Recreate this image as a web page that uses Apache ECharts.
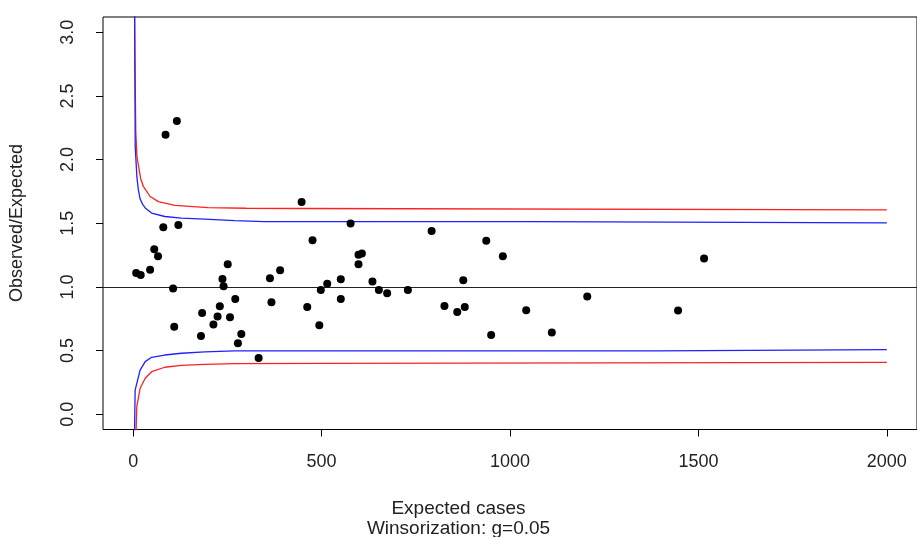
<!DOCTYPE html>
<html>
<head>
<meta charset="utf-8">
<script src="https://cdn.jsdelivr.net/npm/echarts@6/dist/echarts.min.js"></script>
<style>
html,body{margin:0;padding:0;background:#fff;}
#chart{width:917px;height:537px;}
</style>
</head>
<body>
<div id="chart"></div>
<script>
// ---- data ----
const expectedCases = [8, 20, 45, 56, 66, 80, 120, 106, 109, 86, 116, 251, 237, 240, 271, 230, 183, 224, 257, 213, 180, 287, 278, 333, 363, 390, 367, 447, 577, 476, 598, 607, 598, 515, 551, 498, 551, 462, 494, 635, 652, 674, 729, 792, 937, 981, 876, 826, 860, 880, 1043, 950, 1111, 1205, 1515, 1446];
const obsExpRatio  = [1.110, 1.094, 1.134, 1.296, 1.241, 1.469, 1.487, 0.987, 0.688, 2.195, 2.303, 1.178, 1.063, 1.005, 0.906, 0.848, 0.796, 0.767, 0.762, 0.704, 0.615, 0.630, 0.557, 0.442, 1.068, 1.131, 0.880, 1.666, 1.498, 1.367, 1.252, 1.262, 1.178, 1.024, 1.060, 0.976, 0.906, 0.843, 0.699, 1.042, 0.976, 0.950, 0.976, 1.440, 1.362, 1.241, 1.053, 0.851, 0.803, 0.843, 0.817, 0.623, 0.641, 0.924, 1.223, 0.814];

const upperRed  = [[3.4, 3.4], [4.5, 2.85], [7, 2.22], [10, 2.03], [13, 1.97], [20, 1.85], [27, 1.79], [45, 1.71], [67, 1.67], [111, 1.64], [199, 1.622], [300, 1.618], [458, 1.616], [458, 1.605], [2000, 1.605]];
const upperBlue = [[3.4, 3.4], [4.5, 2.8], [5.5, 2.1], [10, 1.86], [14, 1.76], [18.5, 1.69], [25, 1.65], [32, 1.62], [49, 1.58], [84, 1.553], [128, 1.54], [190, 1.532], [269, 1.521], [348, 1.513], [1056, 1.513], [1056, 1.503], [2000, 1.503]];
const lowerBlue = [[3, -0.3], [5.3, 0.19], [12, 0.27], [18.5, 0.347], [32, 0.413], [49, 0.447], [84, 0.465], [128, 0.479], [190, 0.489], [269, 0.497], [1389, 0.497], [1389, 0.507], [2000, 0.507]];
const lowerRed  = [[6, -0.3], [9.7, 0.06], [18.5, 0.204], [32, 0.282], [49, 0.334], [84, 0.369], [128, 0.384], [190, 0.392], [269, 0.397], [502, 0.400], [502, 0.408], [2000, 0.408]];

const xTicks = [0, 500, 1000, 1500, 2000];
const yTicks = [0, 0.5, 1, 1.5, 2, 2.5, 3];
const refLevel = 1;

const xTitle = 'Expected cases';
const xSubTitle = 'Winsorization: g=0.05';
const yTitle = 'Observed/Expected';

// ---- chart ----
const points = expectedCases.map((x, i) => [x, obsExpRatio[i]]);
const FONT = 'Liberation Sans, Arial, sans-serif';
const TXT = '#222';

const chart = echarts.init(document.getElementById('chart'), null, {renderer: 'canvas'});
chart.setOption({
  animation: false,
  backgroundColor: '#fff',
  grid: {left: 103, top: 17, width: 818.6, height: 412.5, show: true, borderColor: '#000', borderWidth: 1, backgroundColor: 'transparent', containLabel: false},
  xAxis: {
    type: 'value', min: -80, max: 2080,
    axisLine: {show: false, onZero: false},
    splitLine: {show: false},
    axisTick: {show: true, inside: false, length: 7, customValues: xTicks, lineStyle: {color: '#000', width: 1}},
    axisLabel: {customValues: xTicks, margin: 24, fontSize: 18, fontFamily: FONT, color: TXT,
      formatter: v => String(v)}
  },
  yAxis: {
    type: 'value', min: -0.12, max: 3.12,
    axisLine: {show: false, onZero: false},
    splitLine: {show: false},
    axisTick: {show: true, inside: false, length: 7, customValues: yTicks, lineStyle: {color: '#000', width: 1}},
    axisLabel: {customValues: yTicks, rotate: 90, margin: 26, fontSize: 18, fontFamily: FONT, color: TXT,
      formatter: v => Number(v).toFixed(1)}
  },
  series: [
    {type: 'line', data: upperRed, showSymbol: false, symbol: 'none', clip: true, lineStyle: {color: '#ff2020', width: 1.3}, z: 2,
     markLine: {silent: true, symbol: 'none', label: {show: false}, lineStyle: {color: '#222', width: 1, type: 'solid'}, data: [{yAxis: refLevel}]}},
    {type: 'line', data: lowerRed, showSymbol: false, symbol: 'none', clip: true, lineStyle: {color: '#ff2020', width: 1.3}, z: 2},
    {type: 'line', data: upperBlue, showSymbol: false, symbol: 'none', clip: true, lineStyle: {color: '#2020ff', width: 1.3}, z: 3},
    {type: 'line', data: lowerBlue, showSymbol: false, symbol: 'none', clip: true, lineStyle: {color: '#2020ff', width: 1.3}, z: 3},
    {type: 'scatter', data: points, symbol: 'circle', symbolSize: 8, itemStyle: {color: '#000', opacity: 1}, z: 5}
  ],
  graphic: [
    {type: 'text', left: 'center', top: 499, style: {text: xTitle, fontSize: 19, fontFamily: FONT, fill: TXT}},
    {type: 'text', left: 'center', top: 519, style: {text: xSubTitle, fontSize: 19, fontFamily: FONT, fill: TXT}},
    {type: 'text', x: 8, y: 223, rotation: Math.PI / 2, style: {text: yTitle, fontSize: 18, fontFamily: FONT, fill: TXT, align: 'center', verticalAlign: 'top'}}
  ]
});
</script>
</body>
</html>
